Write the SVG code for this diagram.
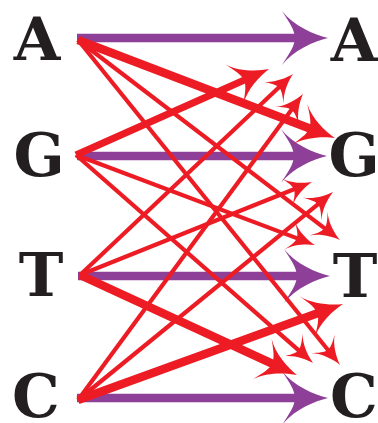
<svg xmlns="http://www.w3.org/2000/svg" width="378" height="423" viewBox="0 0 378 423">
<style>
.lbl{font-family:"DejaVu Serif","Liberation Serif",serif;font-weight:bold;font-size:60px;fill:#231f20;text-anchor:middle}
.p{stroke:#8e4099;stroke-width:8.5;fill:none;marker-end:url(#hp)}
.r{stroke:#ed1c24;fill:none}
.tn{stroke-width:4.2;marker-end:url(#hn)}
.tk{stroke-width:8.5;marker-end:url(#hk)}
</style>
<defs>
<marker id="hp" markerUnits="userSpaceOnUse" orient="auto" refX="0" refY="0" markerWidth="1" markerHeight="1" overflow="visible">
<path fill="#8e4099" d="M28,0 C14.2,-3.24 -6.5,-12.15 -18,-27 C-11.1,-16.2 -5.12,-8.1 -5.12,0 C-5.12,8.1 -11.1,16.2 -18,27 C-6.5,12.15 14.2,3.24 28,0Z"/>
</marker>
<marker id="hk" markerUnits="userSpaceOnUse" orient="auto" refX="0" refY="0" markerWidth="1" markerHeight="1" overflow="visible">
<path fill="#ed1c24" d="M22,0 C10.6,-2.64 -6.5,-9.9 -16,-22 C-10.3,-13.2 -5.36,-6.6 -5.36,0 C-5.36,6.6 -10.3,13.2 -16,22 C-6.5,9.9 10.6,2.64 22,0Z"/>
</marker>
<marker id="hn" markerUnits="userSpaceOnUse" orient="auto" refX="0" refY="0" markerWidth="1" markerHeight="1" overflow="visible">
<path fill="#ed1c24" d="M16,0 C7.9,-1.8 -4.25,-6.75 -11,-15 C-6.95,-9 -3.44,-4.5 -3.44,0 C-3.44,4.5 -6.95,9 -11,15 C-4.25,6.75 7.9,1.8 16,0Z"/>
</marker>
</defs>
<g id="left-A"><text class="lbl" x="37" y="60">A</text></g>
<g id="left-G"><text class="lbl" x="39" y="176">G</text></g>
<g id="left-T"><text class="lbl" x="41" y="296">T</text></g>
<g id="left-C"><text class="lbl" x="36" y="417">C</text></g>
<g id="right-A"><text class="lbl" x="354" y="61">A</text></g>
<g id="right-G"><text class="lbl" x="354" y="176">G</text></g>
<g id="right-T"><text class="lbl" x="355" y="297">T</text></g>
<g id="right-C"><text class="lbl" x="354" y="417">C</text></g>
<g id="connectors">
<path class="p" d="M77,38 L300,38"/>
<path class="p" d="M77,156 L299,156"/>
<path class="p" d="M78,276 L302,276"/>
<path class="p" d="M77,398 L300,398"/>
<path class="r tn" d="M78,40 L327.3,230.3"/>
<path class="r tn" d="M78,40 L330,352.5"/>
<path class="r tn" d="M76,155 L300,239.4"/>
<path class="r tn" d="M76,155 L301,352.4"/>
<path class="r tn" d="M80,275 L281.4,85"/>
<path class="r tn" d="M80,275 L297.1,188"/>
<path class="r tn" d="M78,400 L293.5,106.9"/>
<path class="r tn" d="M78,400 L320.6,202.1"/>
<path class="r tk" style="stroke-width:7" d="M76,155 L248.9,78"/>
<path class="r tk" d="M78,40 L314.4,130.2"/>
<path class="r tk" d="M80,275 L277,365.8"/>
<path class="r tk" d="M78,400 L322.3,311.5"/>
</g>
</svg>
